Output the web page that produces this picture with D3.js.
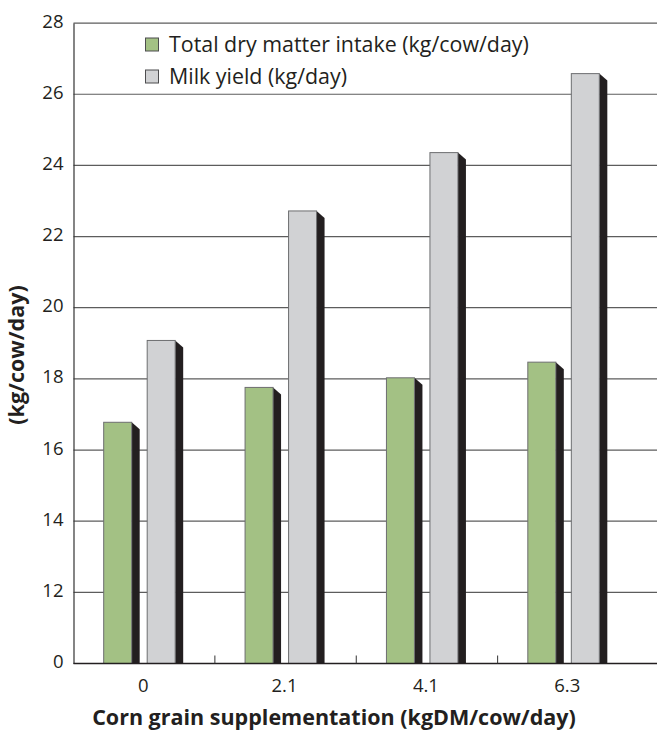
<!DOCTYPE html>
<html><head><meta charset="utf-8">
<script src="https://cdn.jsdelivr.net/npm/d3@7"></script>
<style>body{margin:0;background:#fff}svg{display:block}</style>
</head><body><svg id="c" width="657" height="732"></svg>
<script>
const categories = ["0", "2.1", "4.1", "6.3"];
const seriesNames = ["Total dry matter intake (kg/cow/day)", "Milk yield (kg/day)"];
const dryMatterIntake = [16.78, 17.76, 18.03, 18.47];
const milkYield = [19.08, 22.72, 24.36, 26.58];
const yTicks = [10, 12, 14, 16, 18, 20, 22, 24, 26, 28];
const yTickLabels = ["0", "12", "14", "16", "18", "20", "22", "24", "26", "28"];
const colors = ["#a3c184", "#d1d2d4"];

const svg = d3.select("#c");
const font = "'Open Sans', 'Noto Sans', sans-serif";
const L = 73.5, R = 639, T = 23.1, B = 663.5, W = 657;

const y = d3.scaleLinear().domain([10, 28]).range([B, T]);
const x = d3.scaleBand().domain(categories).range([L, R]);

// gridlines
svg.append("g").selectAll("line").data(yTicks.filter(d => d > 10)).join("line")
  .attr("x1", L).attr("x2", W).attr("y1", d => y(d)).attr("y2", d => y(d))
  .attr("stroke", "#5c5c5c").attr("stroke-width", 1.2);

// y axis via d3
const yAxis = d3.axisLeft(y).tickValues(yTicks)
  .tickFormat((d, i) => yTickLabels[i]).tickSize(0).tickPadding(10);
const ga = svg.append("g").attr("transform", `translate(${L},0)`).call(yAxis);
ga.select(".domain").attr("stroke", "#333").attr("stroke-width", 1.2);
ga.selectAll("text").attr("font-family", font).attr("font-size", 18.5)
  .attr("fill", "#231f20").attr("dy", "0.22em");

// bars
const bw = 28, sw = 8, sdrop = 7, gOff = -40.5, gap = 43.5;
const allSeries = [dryMatterIntake, milkYield];
allSeries.forEach((vals, s) => {
  const g = svg.append("g");
  const x0 = (d, i) => x(categories[i]) + x.bandwidth() / 2 + gOff + s * gap;
  g.selectAll("path").data(vals).join("path")
    .attr("d", (d, i) => {
      const xr = x0(d, i) + bw, yt = y(d);
      return `M${xr},${yt} L${xr + sw},${yt + sdrop} L${xr + sw},${B} L${xr},${B} Z`;
    })
    .attr("fill", "#231f20");
  g.selectAll("rect").data(vals).join("rect")
    .attr("x", (d, i) => x0(d, i)).attr("y", d => y(d))
    .attr("width", bw).attr("height", d => B - y(d))
    .attr("fill", colors[s]).attr("stroke", "#6d6e70").attr("stroke-width", 1);
});

// x axis baseline and ticks
svg.append("line").attr("x1", L).attr("x2", W).attr("y1", B).attr("y2", B)
  .attr("stroke", "#231f20").attr("stroke-width", 1.4);
svg.append("g").selectAll("line").data(categories.slice(1)).join("line")
  .attr("x1", d => x(d)).attr("x2", d => x(d)).attr("y1", B).attr("y2", B - 8)
  .attr("stroke", "#333").attr("stroke-width", 1);
svg.append("g").selectAll("text").data(categories).join("text")
  .attr("x", d => x(d) + x.bandwidth() / 2 - 1).attr("y", 692)
  .attr("text-anchor", "middle").attr("font-family", font).attr("font-size", 18.5)
  .attr("fill", "#231f20").text(d => d);

// axis titles
svg.append("text").attr("x", 334).attr("y", 725).attr("text-anchor", "middle")
  .attr("font-family", font).attr("font-size", 21.5).attr("font-weight", "bold")
  .attr("fill", "#231f20").text("Corn grain supplementation (kgDM/cow/day)");
svg.append("text").attr("transform", "translate(24,355) rotate(-90)")
  .attr("text-anchor", "middle").attr("font-family", font).attr("font-size", 21.5)
  .attr("font-weight", "bold").attr("fill", "#231f20").text("(kg/cow/day)");

// legend
const leg = svg.append("g");
seriesNames.forEach((n, i) => {
  const ly = 38 + i * 32;
  leg.append("rect").attr("x", 145.5).attr("y", ly).attr("width", 13).attr("height", 13)
    .attr("fill", colors[i]).attr("stroke", "#4d4d4f").attr("stroke-width", 1);
  leg.append("text").attr("x", 169).attr("y", ly + 13.5).attr("font-family", font)
    .attr("font-size", 21.4).attr("fill", "#231f20").text(n);
});
</script></body></html>
